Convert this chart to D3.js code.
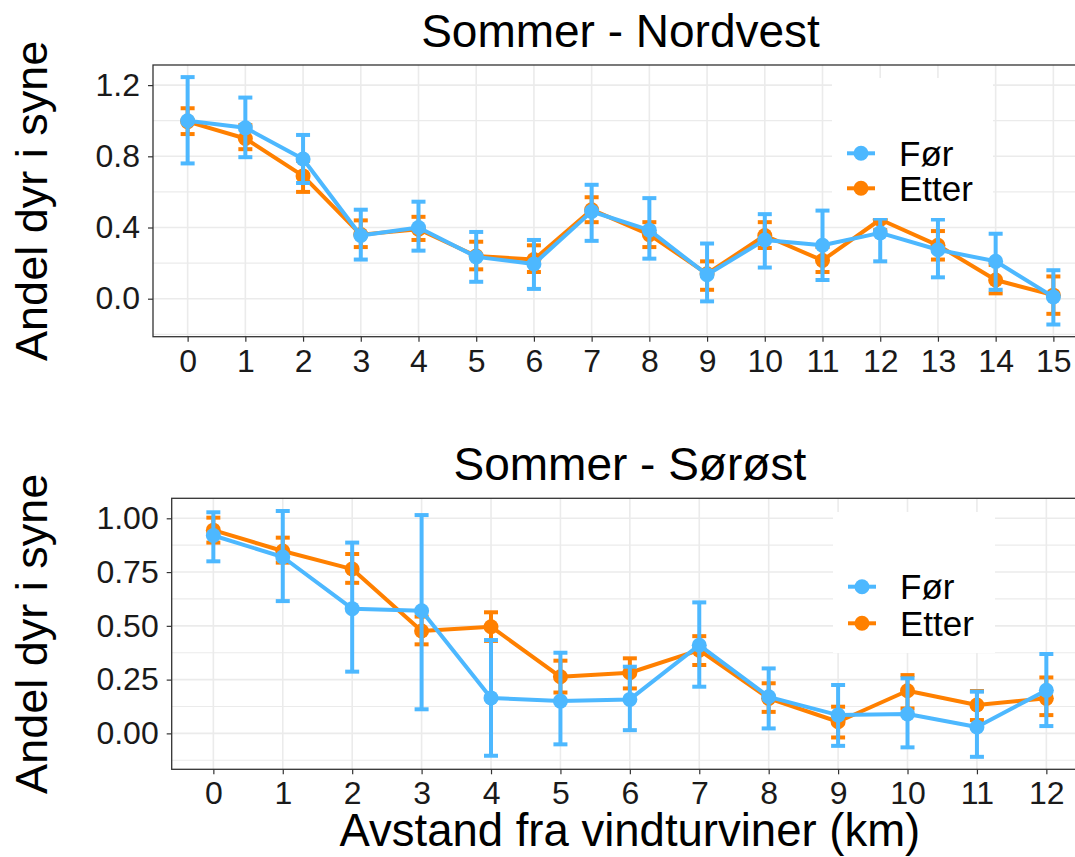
<!DOCTYPE html>
<html>
<head>
<meta charset="utf-8">
<script src="https://cdn.jsdelivr.net/npm/d3@7"></script>
<style>
  html, body { margin: 0; padding: 0; background: #ffffff; }
  svg { display: block; font-family: "Liberation Sans", Arial, sans-serif; }
</style>
</head>
<body>
<svg id="chart" width="1075" height="857"></svg>
<script>
// Distance from the wind turbines (km)
const kmNordvest = ["0","1","2","3","4","5","6","7","8","9","10","11","12","13","14","15"];
const kmSorost   = ["0","1","2","3","4","5","6","7","8","9","10","11","12"];

// Sommer - Nordvest: share of animals in view, before (Før) and after (Etter)
const nwFor      = [1.00, 0.96, 0.785, 0.355, 0.40, 0.235, 0.195, 0.49, 0.385, 0.135, 0.33, 0.30, 0.37, 0.275, 0.21, 0.01];
const nwForLow   = [0.76, 0.795, 0.65, 0.22, 0.27, 0.095, 0.055, 0.325, 0.225, -0.015, 0.175, 0.105, 0.21, 0.12, 0.05, -0.145];
const nwForHigh  = [1.245, 1.13, 0.92, 0.50, 0.545, 0.375, 0.33, 0.64, 0.565, 0.31, 0.475, 0.495, 0.45, 0.445, 0.365, 0.16];
const nwEtter     = [0.995, 0.90, 0.69, 0.36, 0.39, 0.24, 0.22, 0.50, 0.36, 0.14, 0.355, 0.215, 0.445, 0.30, 0.105, 0.02];
const nwEtterLow  = [0.925, 0.84, 0.60, 0.29, 0.33, 0.165, 0.15, 0.43, 0.29, 0.05, 0.285, 0.15, 0.385, 0.22, 0.03, -0.085];
const nwEtterHigh = [1.07, 0.975, 0.775, 0.44, 0.46, 0.32, 0.30, 0.57, 0.43, 0.21, 0.43, 0.29, 0.51, 0.38, 0.19, 0.125];

// Sommer - Sørøst
const seFor      = [0.92, 0.82, 0.58, 0.57, 0.165, 0.15, 0.158, 0.41, 0.17, 0.085, 0.09, 0.03, 0.20];
const seForLow   = [0.80, 0.615, 0.287, 0.112, -0.104, -0.051, 0.015, 0.217, 0.023, -0.058, -0.065, -0.109, 0.034];
const seForHigh  = [1.028, 1.034, 0.887, 1.015, 0.434, 0.375, 0.31, 0.609, 0.302, 0.225, 0.256, 0.194, 0.369];
const seEtter     = [0.945, 0.848, 0.764, 0.476, 0.496, 0.263, 0.282, 0.387, 0.163, 0.054, 0.198, 0.132, 0.163];
const seEtterLow  = [0.887, 0.794, 0.70, 0.414, 0.43, 0.19, 0.209, 0.318, 0.10, -0.019, 0.116, 0.062, 0.085];
const seEtterHigh = [1.003, 0.91, 0.834, 0.543, 0.563, 0.338, 0.349, 0.452, 0.233, 0.124, 0.271, 0.197, 0.26];

// Axis ticks
const nwTicks = [0.0, 0.4, 0.8, 1.2];
const nwMinor = [-0.2, 0.2, 0.6, 1.0];
const seTicks = [0.00, 0.25, 0.50, 0.75, 1.00];
const seMinor = [-0.125, 0.125, 0.375, 0.625, 0.875];

const seriesNames = ["Før", "Etter"];
const seriesColors = ["#4db8ff", "#ff8000"];

const titles = ["Sommer - Nordvest", "Sommer - Sørøst"];
const yTitle = "Andel dyr i syne";
const xTitle = "Avstand fra vindturviner (km)";

const svg = d3.select("#chart");

function series(cats, mean, lo, hi) {
  return cats.map((c, i) => ({ km: c, v: mean[i], lo: lo[i], hi: hi[i] }));
}

function drawPanel(opt) {
  const { cats, left, right, top, bottom, yDomain, ticks, minor, tickFmt,
          title, fore, back, legendBox, legendY, tickLabelY, showXTitle } = opt;
  const g = svg.append("g");

  const x = d3.scalePoint().domain(cats).range([left, right]).padding(0.6);
  const y = d3.scaleLinear().domain(yDomain).range([bottom, top]);

  // panel background + grid
  g.append("rect").attr("x", left).attr("y", top)
    .attr("width", right - left).attr("height", bottom - top).attr("fill", "#ffffff");

  const grid = g.append("g").attr("stroke", "#ebebeb");
  grid.selectAll("line.minor").data(minor).join("line").attr("class", "minor")
    .attr("x1", left).attr("x2", right)
    .attr("y1", d => y(d)).attr("y2", d => y(d)).attr("stroke-width", 1.2);
  grid.selectAll("line.major").data(ticks).join("line").attr("class", "major")
    .attr("x1", left).attr("x2", right)
    .attr("y1", d => y(d)).attr("y2", d => y(d)).attr("stroke-width", 1.6);
  grid.selectAll("line.vert").data(cats).join("line").attr("class", "vert")
    .attr("x1", d => x(d)).attr("x2", d => x(d))
    .attr("y1", top).attr("y2", bottom).attr("stroke-width", 1.6);

  // y axis
  const yAxis = d3.axisLeft(y).tickValues(ticks).tickFormat(tickFmt).tickSize(5).tickPadding(8);
  const ya = g.append("g").attr("transform", `translate(${left},0)`).call(yAxis);
  ya.select(".domain").remove();
  ya.selectAll(".tick line").attr("stroke", "#333333").attr("stroke-width", 1.2);
  ya.selectAll(".tick text").attr("font-size", 32).attr("fill", "#1a1a1a")
    .attr("font-family", "Liberation Sans, Arial, sans-serif");

  // x axis
  const xAxis = d3.axisBottom(x).tickSize(5).tickPadding(0);
  const xa = g.append("g").attr("transform", `translate(0,${bottom})`).call(xAxis);
  xa.select(".domain").remove();
  xa.selectAll(".tick line").attr("stroke", "#333333").attr("stroke-width", 1.2);
  xa.selectAll(".tick text").attr("font-size", 32).attr("fill", "#1a1a1a")
    .attr("font-family", "Liberation Sans, Arial, sans-serif")
    .attr("dy", null).attr("y", tickLabelY - bottom);

  // data series: Etter underneath, Før on top
  const line = d3.line().x(d => x(d.km)).y(d => y(d.v));
  [back, fore].forEach(s => {
    const sg = g.append("g");
    sg.append("path").datum(s.data).attr("d", line)
      .attr("fill", "none").attr("stroke", s.color).attr("stroke-width", 4)
      .attr("stroke-linejoin", "round");
    const eb = sg.append("g").attr("stroke", s.color).attr("stroke-width", 4);
    eb.selectAll("line.v").data(s.data).join("line").attr("class", "v")
      .attr("x1", d => x(d.km)).attr("x2", d => x(d.km))
      .attr("y1", d => y(d.lo)).attr("y2", d => y(d.hi));
    eb.selectAll("line.lo").data(s.data).join("line").attr("class", "lo")
      .attr("x1", d => x(d.km) - 7).attr("x2", d => x(d.km) + 7)
      .attr("y1", d => y(d.lo)).attr("y2", d => y(d.lo));
    eb.selectAll("line.hi").data(s.data).join("line").attr("class", "hi")
      .attr("x1", d => x(d.km) - 7).attr("x2", d => x(d.km) + 7)
      .attr("y1", d => y(d.hi)).attr("y2", d => y(d.hi));
    sg.selectAll("circle").data(s.data).join("circle")
      .attr("cx", d => x(d.km)).attr("cy", d => y(d.v)).attr("r", 7.5)
      .attr("fill", s.color);
  });

  // legend
  const lg = g.append("g");
  lg.append("rect").attr("x", legendBox[0]).attr("y", legendBox[1])
    .attr("width", legendBox[2]).attr("height", legendBox[3]).attr("fill", "#ffffff");
  [fore, back].forEach((s, i) => {
    const ly = legendY[i];
    const kx = legendBox[0] + 29;
    lg.append("line").attr("x1", kx - 14).attr("x2", kx + 14)
      .attr("y1", ly).attr("y2", ly).attr("stroke", s.color).attr("stroke-width", 4);
    lg.append("circle").attr("cx", kx).attr("cy", ly).attr("r", 7.5).attr("fill", s.color);
    lg.append("text").attr("x", legendBox[0] + 67).attr("y", ly + 12.5)
      .attr("font-size", 35).attr("fill", "#000000").text(s.name);
  });

  // panel border
  g.append("rect").attr("x", left).attr("y", top)
    .attr("width", right - left).attr("height", bottom - top)
    .attr("fill", "none").attr("stroke", "#333333").attr("stroke-width", 1.3);

  // titles
  g.append("text").attr("x", (left + right) / 2).attr("y", top - 18)
    .attr("text-anchor", "middle").attr("font-size", 46).attr("fill", "#000000").text(title);
  g.append("text")
    .attr("transform", `translate(47,${(top + bottom) / 2}) rotate(-90)`)
    .attr("text-anchor", "middle").attr("font-size", 45).attr("fill", "#000000").text(yTitle);
  if (showXTitle) {
    g.append("text").attr("x", (left + right) / 2).attr("y", 846)
      .attr("text-anchor", "middle").attr("font-size", 45.5).attr("fill", "#000000").text(xTitle);
  }
}

drawPanel({
  cats: kmNordvest, left: 153, right: 1088, top: 65, bottom: 336.7,
  yDomain: [-0.2135, 1.313], ticks: nwTicks, minor: nwMinor, tickFmt: d3.format(".1f"),
  title: titles[0],
  fore: { name: seriesNames[0], color: seriesColors[0], data: series(kmNordvest, nwFor, nwForLow, nwForHigh) },
  back: { name: seriesNames[1], color: seriesColors[1], data: series(kmNordvest, nwEtter, nwEtterLow, nwEtterHigh) },
  legendBox: [832, 78, 161, 140], legendY: [153.3, 188.3], tickLabelY: 372.5, showXTitle: false
});

drawPanel({
  cats: kmSorost, left: 171.7, right: 1088, top: 498.3, bottom: 769.3,
  yDomain: [-0.167, 1.093], ticks: seTicks, minor: seMinor, tickFmt: d3.format(".2f"),
  title: titles[1],
  fore: { name: seriesNames[0], color: seriesColors[0], data: series(kmSorost, seFor, seForLow, seForHigh) },
  back: { name: seriesNames[1], color: seriesColors[1], data: series(kmSorost, seEtter, seEtterLow, seEtterHigh) },
  legendBox: [833, 512, 162, 141], legendY: [586.7, 623.3], tickLabelY: 804, showXTitle: true
});
</script>
</body>
</html>
